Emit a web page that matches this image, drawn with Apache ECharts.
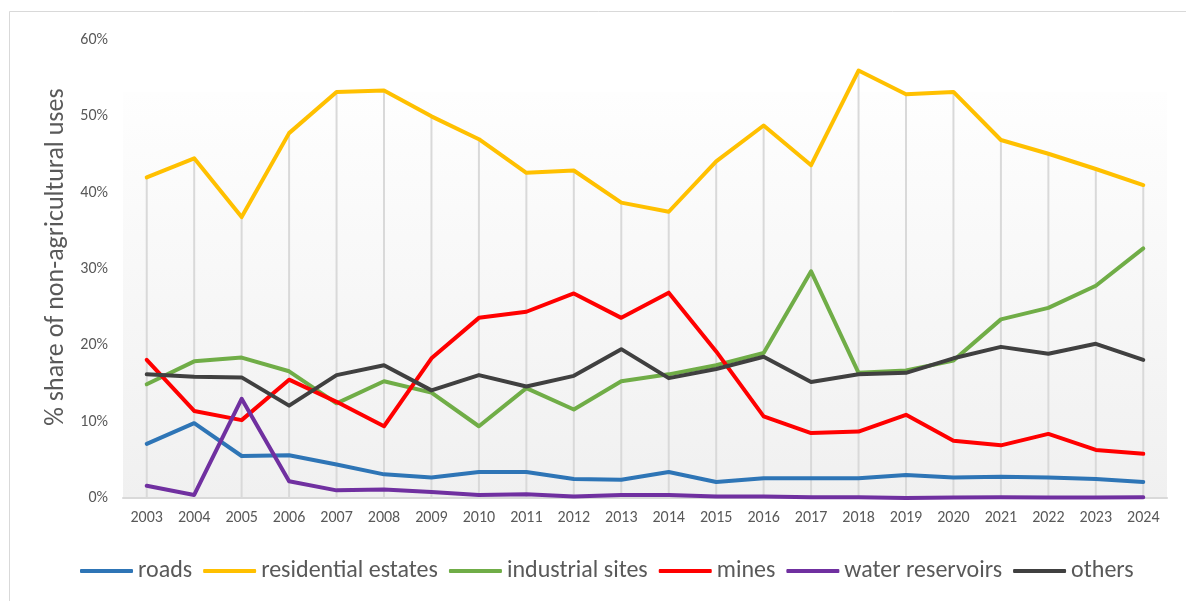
<!DOCTYPE html>
<html>
<head>
<meta charset="utf-8">
<script src="https://cdn.jsdelivr.net/npm/echarts@6/dist/echarts.min.js"></script>
<style>
  html, body { margin: 0; padding: 0; background: #ffffff; }
  #chart { width: 1186px; height: 601px; }
</style>
</head>
<body>
<div id="chart"></div>
<script>
// Share of land converted to non-agricultural uses, by purpose (%)
const years = ['2003','2004','2005','2006','2007','2008','2009','2010','2011','2012','2013',
               '2014','2015','2016','2017','2018','2019','2020','2021','2022','2023','2024'];

const roads       = [7.1, 9.8, 5.5, 5.6, 4.4, 3.1, 2.7, 3.4, 3.4, 2.5, 2.4, 3.4, 2.1, 2.6, 2.6, 2.6, 3.0, 2.7, 2.8, 2.7, 2.5, 2.1];
const residential = [42.0, 44.5, 36.8, 47.8, 53.2, 53.4, 50.0, 47.0, 42.6, 42.9, 38.7, 37.5, 44.1, 48.8, 43.6, 56.0, 52.9, 53.2, 46.9, 45.1, 43.1, 41.0];
const industrial  = [14.9, 17.9, 18.4, 16.6, 12.4, 15.3, 13.8, 9.4, 14.4, 11.6, 15.3, 16.2, 17.4, 19.0, 29.7, 16.4, 16.7, 18.0, 23.4, 24.9, 27.8, 32.7];
const mines       = [18.1, 11.4, 10.2, 15.5, 12.6, 9.4, 18.3, 23.6, 24.4, 26.8, 23.6, 26.9, 19.2, 10.7, 8.5, 8.7, 10.9, 7.5, 6.9, 8.4, 6.3, 5.8];
const water       = [1.6, 0.4, 13.0, 2.2, 1.0, 1.1, 0.8, 0.4, 0.5, 0.2, 0.4, 0.4, 0.2, 0.2, 0.1, 0.1, 0.0, 0.05, 0.1, 0.05, 0.05, 0.1];
const others      = [16.2, 15.9, 15.8, 12.1, 16.1, 17.4, 14.1, 16.1, 14.6, 16.0, 19.5, 15.7, 16.9, 18.5, 15.2, 16.2, 16.4, 18.3, 19.8, 18.9, 20.2, 18.1];

const seriesNames  = ['roads', 'residential estates', 'industrial sites', 'mines', 'water reservoirs', 'others'];
const seriesValues = [roads, residential, industrial, mines, water, others];
const seriesColors = ['#2E75B6', '#FFC000', '#70AD47', '#FF0000', '#7030A0', '#404040'];

const yTicks = { min: 0, max: 60, step: 10 };

// Drop lines run from the axis up to the highest point of each year
const dropLine = years.map((_, i) => Math.max(...seriesValues.map(s => s[i])));

const FONT = 'Carlito, Lato, "Liberation Sans", sans-serif';
const TEXT = '#595959';

const chart = echarts.init(document.getElementById('chart'), null, { renderer: 'canvas' });

const lineSeries = seriesNames.map((name, k) => ({
  name,
  type: 'line',
  data: seriesValues[k],
  symbol: 'none',
  z: 3,
  lineStyle: { color: seriesColors[k], width: 4, cap: 'round', join: 'round' },
  itemStyle: { color: seriesColors[k] }
}));

chart.setOption({
  animation: false,
  textStyle: { fontFamily: FONT },
  graphic: [
    {
      type: 'rect', z: -10, silent: true,
      shape: { x: 9.5, y: 11.5, width: 1200, height: 620 },
      style: { fill: '#ffffff', stroke: '#d9d9d9', lineWidth: 1 }
    },
    {
      type: 'rect', z: -9, silent: true,
      shape: { x: 123, y: 92, width: 1044, height: 406 },
      style: {
        fill: new echarts.graphic.LinearGradient(0, 0, 0, 1, [
          { offset: 0, color: '#fefefe' },
          { offset: 1, color: '#f0f0f0' }
        ])
      }
    }
  ],
  grid: { left: 123, right: 19, top: 40, bottom: 103, containLabel: false },
  legend: {
    data: seriesNames,
    top: 554,
    left: 75,
    icon: 'roundRect',
    itemWidth: 53,
    itemHeight: 4,
    itemGap: 11,
    textStyle: { color: TEXT, fontSize: 24, fontFamily: FONT }
  },
  xAxis: {
    type: 'category',
    data: years,
    boundaryGap: true,
    axisLine: { show: true, lineStyle: { color: '#d9d9d9', width: 2 } },
    axisTick: { show: false },
    splitLine: { show: false },
    axisLabel: { color: TEXT, fontSize: 16, margin: 12, fontFamily: FONT }
  },
  yAxis: {
    type: 'value',
    min: yTicks.min,
    max: yTicks.max,
    interval: yTicks.step,
    name: '% share of non-agricultural uses',
    nameLocation: 'middle',
    nameGap: 50,
    nameRotate: 90,
    nameTextStyle: { color: TEXT, fontSize: 26, fontFamily: FONT, padding: [0, 0, 0, 24] },
    axisLine: { show: false },
    axisTick: { show: false },
    splitLine: { show: false },
    axisLabel: { color: TEXT, fontSize: 16, margin: 15, formatter: '{value}%', fontFamily: FONT }
  },
  series: [
    {
      name: 'drop lines',
      type: 'bar',
      data: dropLine,
      barWidth: 2,
      z: 1,
      silent: true,
      itemStyle: { color: '#d9d9d9' },
      legendHoverLink: false
    },
    ...lineSeries
  ]
});
</script>
</body>
</html>
